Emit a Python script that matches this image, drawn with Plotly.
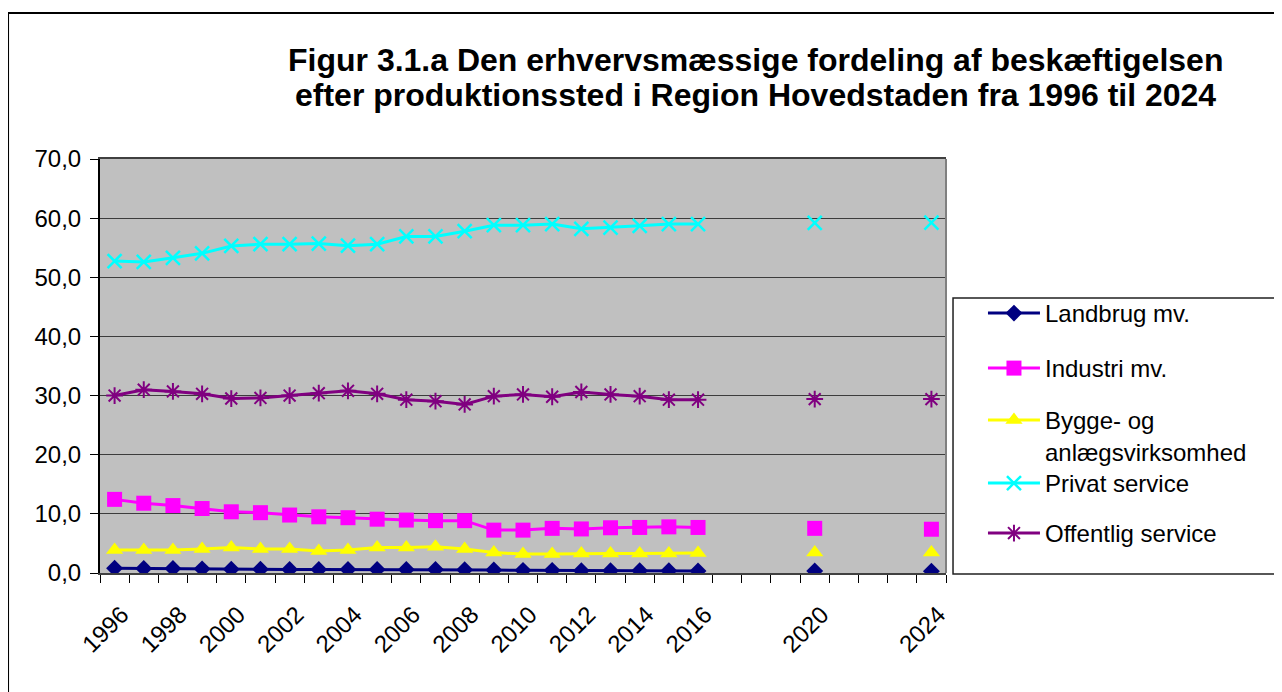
import plotly.graph_objects as go

years = list(range(1996, 2025))
tick_years = [1996, 1998, 2000, 2002, 2004, 2006, 2008, 2010, 2012, 2014, 2016, 2020, 2024]
tick_labels = [str(y) for y in tick_years]

N = None
landbrug = [0.8, 0.75, 0.75, 0.7, 0.65, 0.65, 0.6, 0.6, 0.6, 0.6, 0.6, 0.6, 0.55, 0.5, 0.45,
            0.45, 0.4, 0.4, 0.4, 0.4, 0.35, N, N, N, 0.35, N, N, N, 0.3]
industri = [12.45, 11.8, 11.4, 10.9, 10.35, 10.2, 9.8, 9.5, 9.35, 9.1, 8.95, 8.85, 8.85, 7.25, 7.25,
            7.55, 7.45, 7.65, 7.7, 7.8, 7.7, N, N, N, 7.55, N, N, N, 7.4]
bygge = [3.9, 3.9, 3.9, 4.05, 4.3, 4.05, 4.05, 3.7, 3.9, 4.3, 4.3, 4.45, 4.05, 3.45, 3.2,
         3.2, 3.3, 3.3, 3.3, 3.3, 3.4, N, N, N, 3.45, N, N, N, 3.45]
privat = [52.75, 52.6, 53.3, 54.05, 55.3, 55.6, 55.6, 55.7, 55.35, 55.6, 56.9, 56.9, 57.8, 58.8, 58.8,
          59.0, 58.2, 58.4, 58.7, 59.0, 59.0, N, N, N, 59.2, N, N, N, 59.25]
offentlig = [30.0, 31.0, 30.7, 30.3, 29.5, 29.6, 30.0, 30.4, 30.8, 30.3, 29.3, 29.05, 28.5, 29.9, 30.2,
             29.8, 30.6, 30.2, 29.9, 29.3, 29.3, N, N, N, 29.4, N, N, N, 29.4]

series = [
    ("Landbrug mv.", landbrug, "#000080", "diamond", 13, 0),
    ("Industri mv.", industri, "#FF00FF", "square", 15, 0),
    ("Bygge- og<br>anlægsvirksomhed", bygge, "#FFFF00", "triangle-up", 15, 0),
    ("Privat service", privat, "#00FFFF", "x-thin-open", 14, 2.5),
    ("Offentlig service", offentlig, "#800080", "asterisk-open", 14, 2),
]
legend_ids = ["legend", "legend2", "legend3", "legend4", "legend5"]
legend_tops = [0.6812, 0.5483, 0.4227, 0.2705, 0.1498]

FONT = "Liberation Sans, Arial, sans-serif"

fig = go.Figure()
for (name, vals, col, sym, size, mlw), lid in zip(series, legend_ids):
    fig.add_trace(go.Scatter(
        x=years, y=vals, name=name, mode="lines+markers", connectgaps=False,
        line=dict(color=col, width=3),
        marker=dict(symbol=sym, size=size, color=col, line=dict(color=col, width=mlw)),
        legend=lid,
    ))

legend_style = dict(x=1.0437, xanchor="left", yanchor="top",
                    font=dict(family=FONT, size=24, color="black"),
                    bgcolor="rgba(0,0,0,0)", borderwidth=0, itemwidth=52, valign="top")
layout_legends = {lid: dict(legend_style, y=yt) for lid, yt in zip(legend_ids, legend_tops)}

fig.update_layout(
    width=1282, height=692,
    margin=dict(l=92, r=344, t=151, b=127),
    paper_bgcolor="white", plot_bgcolor="#C0C0C0",
    separators=",.",
    font=dict(family=FONT, color="black", size=24),
    showlegend=True,
    xaxis=dict(range=[1995.5, 2024.5], tickmode="array",
               tickvals=[y + 0.24 for y in tick_years], ticktext=tick_labels,
               tickangle=-45, ticks="", showgrid=False, zeroline=False, ticklabelstandoff=16,
               showline=True, linecolor="#404040", linewidth=2, mirror=True,
               tickfont=dict(family=FONT, size=24, color="black"),
               minor=dict(tickmode="array", tickvals=[1995.5 + k for k in range(30)],
                          ticks="outside", ticklen=8, tickcolor="black", tickwidth=1, showgrid=False)),
    yaxis=dict(range=[0, 70], dtick=10, tick0=0, tickformat=".1f", ticks="outside", ticklen=8,
               tickcolor="black", showgrid=True, gridcolor="#3c3c3c", gridwidth=1, ticklabelstandoff=4,
               zeroline=False, showline=True, linecolor="black", linewidth=2,
               tickfont=dict(family=FONT, size=24, color="black")),
    **layout_legends,
)

# right border of plot area
fig.add_shape(type="line", xref="paper", yref="paper", x0=1, x1=1, y0=0, y1=1,
              line=dict(color="#808080", width=2))
# legend box
fig.add_shape(type="rect", xref="paper", yref="paper", x0=1.0083, x1=1.3948, y0=-0.0024, y1=0.664,
              line=dict(color="#202020", width=1.5), fillcolor="rgba(0,0,0,0)")
# outer chart border
fig.add_shape(type="rect", xref="paper", yref="paper", x0=-0.1087, x1=1.6, y0=-0.6, y1=1.3527,
              line=dict(color="black", width=2), fillcolor="rgba(0,0,0,0)", layer="below")

fig.add_annotation(text="<b>Figur 3.1.a Den erhvervsmæssige fordeling af beskæftigelsen</b>",
                   xref="paper", yref="paper", x=0.7754, y=1.239, xanchor="center", yanchor="middle",
                   showarrow=False, font=dict(family=FONT, size=32, color="black"))
fig.add_annotation(text="<b>efter produktionssted i Region Hovedstaden fra 1996 til 2024</b>",
                   xref="paper", yref="paper", x=0.7754, y=1.1546, xanchor="center", yanchor="middle",
                   showarrow=False, font=dict(family=FONT, size=32, color="black"))

fig.write_html("out.html")
